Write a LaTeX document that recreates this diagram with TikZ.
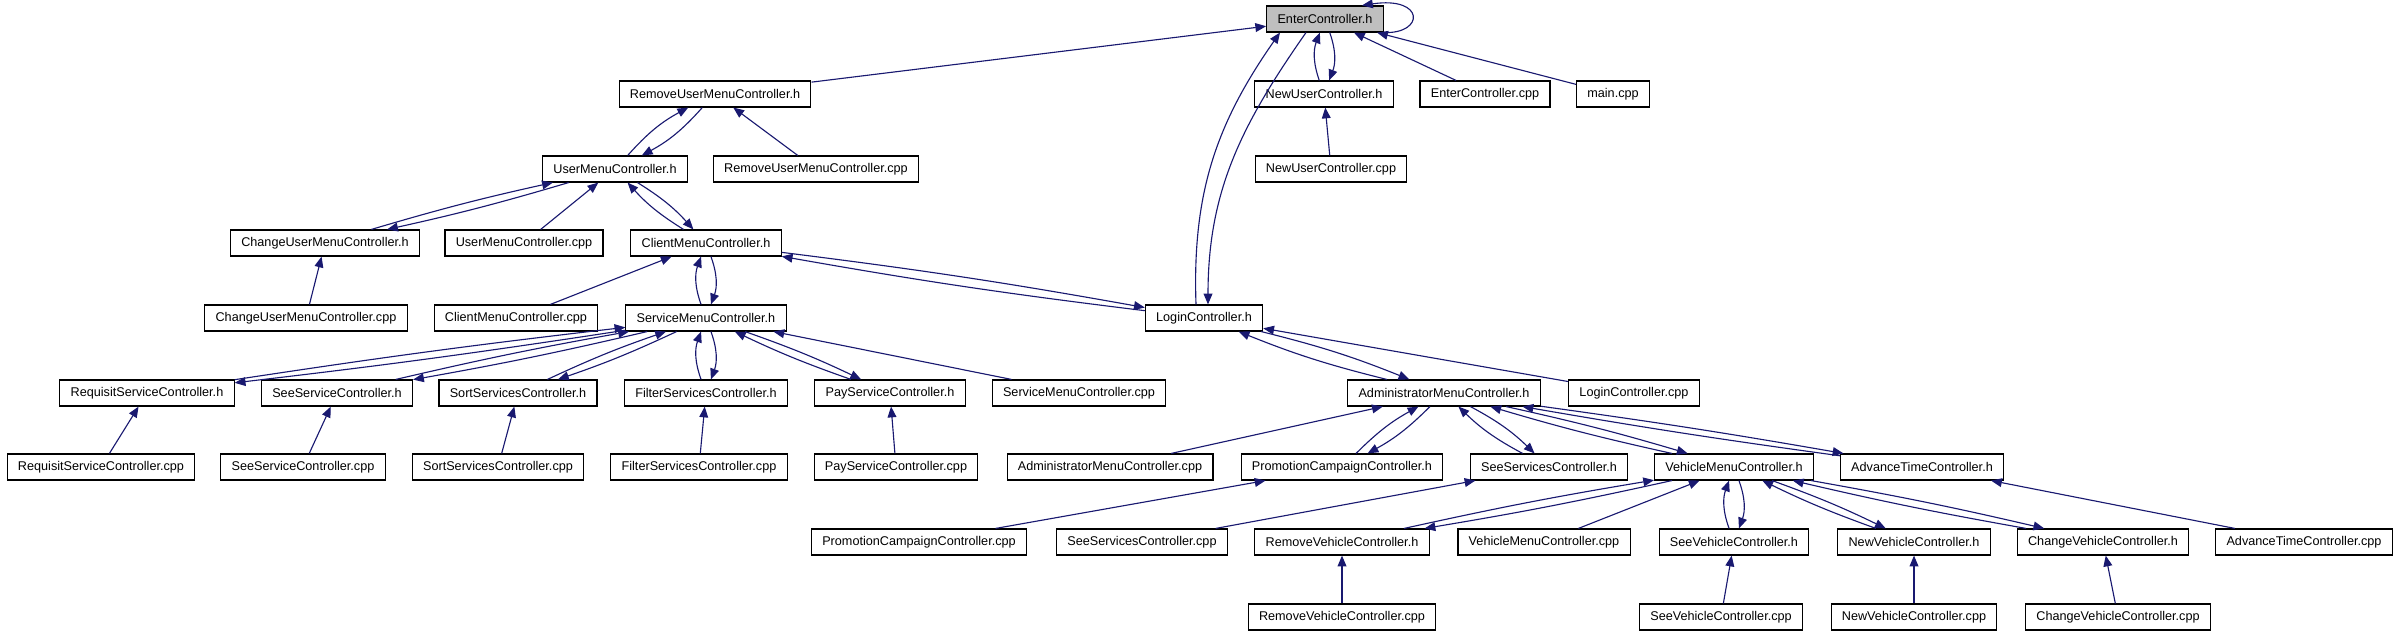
\documentclass[tikz,border=0pt]{standalone}
\usepackage{fontspec}
\setmainfont{Liberation Sans}
\usepackage{tikz}
\usetikzlibrary{arrows.meta}
\definecolor{edgeblue}{RGB}{25, 25, 112}
\definecolor{rootgray}{RGB}{191, 191, 191}

\begin{document}
\begin{tikzpicture}[x=0.025cm, y=-0.025cm,
  file/.style={draw=black, fill=white, rectangle, line width=0.8pt, font=\fontsize{9}{11}\selectfont, inner xsep=0.27cm, inner ysep=0pt, minimum height=0.65cm},
  rootfile/.style={file, fill=rootgray},
  incl/.style={draw=edgeblue, line width=0.8pt, -{Triangle[length=0.27cm, width=0.22cm]}}
]
\useasboundingbox (0,0) rectangle (2399,636);

% Files
\node[rootfile] (enterh) at (1325,19) {EnterController.h};
\node[file] (rumh) at (715,94) {RemoveUserMenuController.h};
\node[file] (nuh) at (1324,94) {NewUserController.h};
\node[file] (entercpp) at (1485,94) {EnterController.cpp};
\node[file] (maincpp) at (1613,94) {main.cpp};
\node[file] (umh) at (615,169) {UserMenuController.h};
\node[file] (rumcpp) at (816,169) {RemoveUserMenuController.cpp};
\node[file] (nucpp) at (1331,169) {NewUserController.cpp};
\node[file] (cumh) at (325,243) {ChangeUserMenuController.h};
\node[file] (umcpp) at (524,243) {UserMenuController.cpp};
\node[file] (cmh) at (706,243) {ClientMenuController.h};
\node[file] (cumcpp) at (306,318) {ChangeUserMenuController.cpp};
\node[file] (cmcpp) at (516,318) {ClientMenuController.cpp};
\node[file] (smh) at (706,318) {ServiceMenuController.h};
\node[file] (loginh) at (1204,318) {LoginController.h};
\node[file] (rsh) at (147,393) {RequisitServiceController.h};
\node[file] (seesh) at (337,393) {SeeServiceController.h};
\node[file] (sortsh) at (518,393) {SortServicesController.h};
\node[file] (fsh) at (706,393) {FilterServicesController.h};
\node[file] (psh) at (890,393) {PayServiceController.h};
\node[file] (smcpp) at (1079,393) {ServiceMenuController.cpp};
\node[file] (amh) at (1444,393) {AdministratorMenuController.h};
\node[file] (logincpp) at (1634,393) {LoginController.cpp};
\node[file] (rscpp) at (101,467) {RequisitServiceController.cpp};
\node[file] (seescpp) at (303,467) {SeeServiceController.cpp};
\node[file] (sortscpp) at (498,467) {SortServicesController.cpp};
\node[file] (fscpp) at (699,467) {FilterServicesController.cpp};
\node[file] (pscpp) at (896,467) {PayServiceController.cpp};
\node[file] (amcpp) at (1110,467) {AdministratorMenuController.cpp};
\node[file] (pch) at (1342,467) {PromotionCampaignController.h};
\node[file] (svsh) at (1549,467) {SeeServicesController.h};
\node[file] (vmh) at (1734,467) {VehicleMenuController.h};
\node[file] (ath) at (1922,467) {AdvanceTimeController.h};
\node[file] (pccpp) at (919,542) {PromotionCampaignController.cpp};
\node[file] (svscpp) at (1142,542) {SeeServicesController.cpp};
\node[file] (rvh) at (1342,542) {RemoveVehicleController.h};
\node[file] (vmcpp) at (1544,542) {VehicleMenuController.cpp};
\node[file] (svh) at (1734,542) {SeeVehicleController.h};
\node[file] (nvh) at (1914,542) {NewVehicleController.h};
\node[file] (cvh) at (2103,542) {ChangeVehicleController.h};
\node[file] (atcpp) at (2304,542) {AdvanceTimeController.cpp};
\node[file] (rvcpp) at (1342,617) {RemoveVehicleController.cpp};
\node[file] (svcpp) at (1721,617) {SeeVehicleController.cpp};
\node[file] (nvcpp) at (1914,617) {NewVehicleController.cpp};
\node[file] (cvcpp) at (2118,617) {ChangeVehicleController.cpp};

% Includes of EnterController.h
\draw[incl] (enterh.south east) .. controls (1425,34) and (1425,-4) .. ([xshift=0.925cm]enterh.north);
\draw[incl] (rumh) -- (enterh);
\draw[incl, bend left=20] (nuh) to (enterh);
\draw[incl, bend left=20] (enterh) to (nuh);
\draw[incl] (entercpp) -- (enterh);
\draw[incl] (maincpp) -- (enterh);
\draw[incl] ([xshift=-0.2cm]loginh.north) to[out=92, in=235] ([xshift=-1.125cm]enterh.south);
\draw[incl] ([xshift=-0.475cm]enterh.south) to[out=235, in=90] ([xshift=0.1cm]loginh.north);
\draw[incl] (nucpp) -- (nuh);

% User menu
\draw[incl, bend left=10] (umh) to (rumh);
\draw[incl, bend left=10] (rumh) to (umh);
\draw[incl] (rumcpp) -- (rumh);
\draw[incl, bend left=2] (cumh) to (umh);
\draw[incl, bend left=2] (umh) to (cumh);
\draw[incl] (umcpp) -- (umh);
\draw[incl, bend left=8] (cmh) to (umh);
\draw[incl, bend left=8] (umh) to (cmh);
\draw[incl] (cumcpp) -- (cumh);

% Client menu
\draw[incl] (cmcpp) -- (cmh);
\draw[incl, bend left=20] (smh) to (cmh);
\draw[incl, bend left=20] (cmh) to (smh);
\draw[incl, bend left=1.5] (loginh) to (cmh);
\draw[incl, bend left=1.5] (cmh) to (loginh);

% Service menu
\draw[incl, bend left=1] (rsh) to (smh);
\draw[incl, bend left=1] (smh) to (rsh);
\draw[incl, bend left=1.5] (seesh) to (smh);
\draw[incl, bend left=1.5] (smh) to (seesh);
\draw[incl, bend left=3] (sortsh) to (smh);
\draw[incl, bend left=3] (smh) to (sortsh);
\draw[incl, bend left=20] (fsh) to (smh);
\draw[incl, bend left=20] (smh) to (fsh);
\draw[incl, bend left=3] (psh) to (smh);
\draw[incl, bend left=3] (smh) to (psh);
\draw[incl] (smcpp) -- (smh);
\draw[incl] (rscpp) -- (rsh);
\draw[incl] (seescpp) -- (seesh);
\draw[incl] (sortscpp) -- (sortsh);
\draw[incl] (fscpp) -- (fsh);
\draw[incl] (pscpp) -- (psh);

% Administrator menu
\draw[incl, bend left=4] (amh) to (loginh);
\draw[incl, bend left=4] (loginh) to (amh);
\draw[incl] (logincpp) -- (loginh);
\draw[incl] (amcpp) -- (amh);
\draw[incl, bend left=8] (pch) to (amh);
\draw[incl, bend left=8] (amh) to (pch);
\draw[incl, bend left=8] (svsh) to (amh);
\draw[incl, bend left=8] (amh) to (svsh);
\draw[incl, bend left=2] (vmh) to (amh);
\draw[incl, bend left=2] (amh) to (vmh);
\draw[incl, bend left=1] (ath) to (amh);
\draw[incl, bend left=1] (amh) to (ath);
\draw[incl] (pccpp) -- (pch);
\draw[incl] (svscpp) -- (svsh);
\draw[incl] (atcpp) -- (ath);

% Vehicle menu
\draw[incl, bend left=1.5] (rvh) to (vmh);
\draw[incl, bend left=1.5] (vmh) to (rvh);
\draw[incl] (vmcpp) -- (vmh);
\draw[incl, bend left=20] (svh) to (vmh);
\draw[incl, bend left=20] (vmh) to (svh);
\draw[incl, bend left=3] (nvh) to (vmh);
\draw[incl, bend left=3] (vmh) to (nvh);
\draw[incl, bend left=1.5] (cvh) to (vmh);
\draw[incl, bend left=1.5] (vmh) to (cvh);
\draw[incl] (rvcpp) -- (rvh);
\draw[incl] (svcpp) -- (svh);
\draw[incl] (nvcpp) -- (nvh);
\draw[incl] (cvcpp) -- (cvh);

\end{tikzpicture}
\end{document}
